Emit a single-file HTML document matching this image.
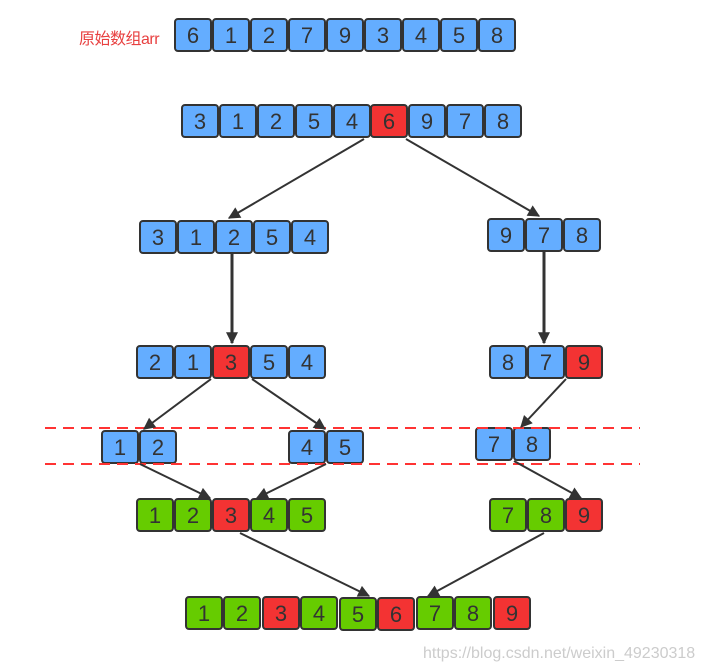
<!DOCTYPE html>
<html><head><meta charset="utf-8"><style>
html,body{margin:0;padding:0;background:#fff;}
svg{display:block}
.b{fill:#64adff}.r{fill:#f33333}.g{fill:#66cc00}
rect{stroke:#333;stroke-width:2}
text.n{font-family:"Liberation Sans","DejaVu Sans",sans-serif;font-size:22px;fill:#333;text-anchor:middle}
</style></head><body>
<svg width="705" height="671" viewBox="0 0 705 671" xmlns="http://www.w3.org/2000/svg">
<defs><marker id="a" viewBox="0 0 10 10" refX="9" refY="5" markerWidth="13" markerHeight="12" markerUnits="userSpaceOnUse" orient="auto"><path d="M0,0L10,5L0,10z" fill="#333"/></marker></defs>
<text x="79" y="44" font-family="Liberation Sans,Noto Sans CJK SC,sans-serif" font-size="16" fill="#e84040" letter-spacing="-0.5">原始数组arr</text>
<g>
<rect class="b" x="175" y="19" width="36" height="32" rx="3"/><text class="n" x="193" y="43">6</text>
<rect class="b" x="213" y="19" width="36" height="32" rx="3"/><text class="n" x="231" y="43">1</text>
<rect class="b" x="251" y="19" width="36" height="32" rx="3"/><text class="n" x="269" y="43">2</text>
<rect class="b" x="289" y="19" width="36" height="32" rx="3"/><text class="n" x="307" y="43">7</text>
<rect class="b" x="327" y="19" width="36" height="32" rx="3"/><text class="n" x="345" y="43">9</text>
<rect class="b" x="365" y="19" width="36" height="32" rx="3"/><text class="n" x="383" y="43">3</text>
<rect class="b" x="403" y="19" width="36" height="32" rx="3"/><text class="n" x="421" y="43">4</text>
<rect class="b" x="441" y="19" width="36" height="32" rx="3"/><text class="n" x="459" y="43">5</text>
<rect class="b" x="479" y="19" width="36" height="32" rx="3"/><text class="n" x="497" y="43">8</text>
</g>
<g>
<rect class="b" x="182" y="105" width="36" height="32" rx="3"/><text class="n" x="200" y="129">3</text>
<rect class="b" x="220" y="105" width="36" height="32" rx="3"/><text class="n" x="238" y="129">1</text>
<rect class="b" x="258" y="105" width="36" height="32" rx="3"/><text class="n" x="276" y="129">2</text>
<rect class="b" x="296" y="105" width="36" height="32" rx="3"/><text class="n" x="314" y="129">5</text>
<rect class="b" x="334" y="105" width="36" height="32" rx="3"/><text class="n" x="352" y="129">4</text>
<rect class="r" x="371" y="105" width="36" height="32" rx="3"/><text class="n" x="389" y="129">6</text>
<rect class="b" x="409" y="105" width="36" height="32" rx="3"/><text class="n" x="427" y="129">9</text>
<rect class="b" x="447" y="105" width="36" height="32" rx="3"/><text class="n" x="465" y="129">7</text>
<rect class="b" x="485" y="105" width="36" height="32" rx="3"/><text class="n" x="503" y="129">8</text>
</g>
<g>
<rect class="b" x="140" y="221" width="36" height="32" rx="3"/><text class="n" x="158" y="245">3</text>
<rect class="b" x="178" y="221" width="36" height="32" rx="3"/><text class="n" x="196" y="245">1</text>
<rect class="b" x="216" y="221" width="36" height="32" rx="3"/><text class="n" x="234" y="245">2</text>
<rect class="b" x="254" y="221" width="36" height="32" rx="3"/><text class="n" x="272" y="245">5</text>
<rect class="b" x="292" y="221" width="36" height="32" rx="3"/><text class="n" x="310" y="245">4</text>
<rect class="b" x="488" y="219" width="36" height="32" rx="3"/><text class="n" x="506" y="243">9</text>
<rect class="b" x="526" y="219" width="36" height="32" rx="3"/><text class="n" x="544" y="243">7</text>
<rect class="b" x="564" y="219" width="36" height="32" rx="3"/><text class="n" x="582" y="243">8</text>
</g>
<g>
<rect class="b" x="137" y="346" width="36" height="32" rx="3"/><text class="n" x="155" y="370">2</text>
<rect class="b" x="175" y="346" width="36" height="32" rx="3"/><text class="n" x="193" y="370">1</text>
<rect class="r" x="213" y="346" width="36" height="32" rx="3"/><text class="n" x="231" y="370">3</text>
<rect class="b" x="251" y="346" width="36" height="32" rx="3"/><text class="n" x="269" y="370">5</text>
<rect class="b" x="289" y="346" width="36" height="32" rx="3"/><text class="n" x="307" y="370">4</text>
<rect class="b" x="490" y="346" width="36" height="32" rx="3"/><text class="n" x="508" y="370">8</text>
<rect class="b" x="528" y="346" width="36" height="32" rx="3"/><text class="n" x="546" y="370">7</text>
<rect class="r" x="566" y="346" width="36" height="32" rx="3"/><text class="n" x="584" y="370">9</text>
</g>
<g>
<rect class="b" x="102" y="431" width="36" height="32" rx="3"/><text class="n" x="120" y="455">1</text>
<rect class="b" x="140" y="431" width="36" height="32" rx="3"/><text class="n" x="158" y="455">2</text>
<rect class="b" x="289" y="431" width="36" height="32" rx="3"/><text class="n" x="307" y="455">4</text>
<rect class="b" x="327" y="431" width="36" height="32" rx="3"/><text class="n" x="345" y="455">5</text>
<rect class="b" x="476" y="428" width="36" height="32" rx="3"/><text class="n" x="494" y="452">7</text>
<rect class="b" x="514" y="428" width="36" height="32" rx="3"/><text class="n" x="532" y="452">8</text>
</g>
<line x1="45" y1="428" x2="640" y2="428" stroke="#f33" stroke-width="2" stroke-dasharray="11,7"/>
<line x1="45" y1="464" x2="640" y2="464" stroke="#f33" stroke-width="2" stroke-dasharray="11,7"/>
<g>
<rect class="g" x="137" y="499" width="36" height="32" rx="3"/><text class="n" x="155" y="523">1</text>
<rect class="g" x="175" y="499" width="36" height="32" rx="3"/><text class="n" x="193" y="523">2</text>
<rect class="r" x="213" y="499" width="36" height="32" rx="3"/><text class="n" x="231" y="523">3</text>
<rect class="g" x="251" y="499" width="36" height="32" rx="3"/><text class="n" x="269" y="523">4</text>
<rect class="g" x="289" y="499" width="36" height="32" rx="3"/><text class="n" x="307" y="523">5</text>
<rect class="g" x="490" y="499" width="36" height="32" rx="3"/><text class="n" x="508" y="523">7</text>
<rect class="g" x="528" y="499" width="36" height="32" rx="3"/><text class="n" x="546" y="523">8</text>
<rect class="r" x="566" y="499" width="36" height="32" rx="3"/><text class="n" x="584" y="523">9</text>
</g>
<g>
<rect class="g" x="186" y="597" width="36" height="32" rx="3"/><text class="n" x="204" y="621">1</text>
<rect class="g" x="224" y="597" width="36" height="32" rx="3"/><text class="n" x="242" y="621">2</text>
<rect class="r" x="263" y="597" width="36" height="32" rx="3"/><text class="n" x="281" y="621">3</text>
<rect class="g" x="301" y="597" width="36" height="32" rx="3"/><text class="n" x="319" y="621">4</text>
<rect class="g" x="340" y="598" width="36" height="32" rx="3"/><text class="n" x="358" y="622">5</text>
<rect class="r" x="378" y="598" width="36" height="32" rx="3"/><text class="n" x="396" y="622">6</text>
<rect class="g" x="417" y="597" width="36" height="32" rx="3"/><text class="n" x="435" y="621">7</text>
<rect class="g" x="455" y="597" width="36" height="32" rx="3"/><text class="n" x="473" y="621">8</text>
<rect class="r" x="494" y="597" width="36" height="32" rx="3"/><text class="n" x="512" y="621">9</text>
</g>
<g stroke="#333" stroke-width="2" fill="none" marker-end="url(#a)">
<line x1="364" y1="139" x2="229" y2="218"/>
<line x1="406" y1="139" x2="539" y2="216"/>
<line x1="232" y1="254" x2="232" y2="343" stroke-width="3"/>
<line x1="544" y1="252" x2="544" y2="343" stroke-width="3"/>
<line x1="211" y1="379" x2="144" y2="429"/>
<line x1="252" y1="379" x2="325" y2="429"/>
<line x1="566" y1="379" x2="521" y2="427"/>
<line x1="140" y1="464" x2="210" y2="498"/>
<line x1="326" y1="464" x2="257" y2="498"/>
<line x1="514" y1="461" x2="581" y2="498"/>
<line x1="240" y1="533" x2="369" y2="596"/>
<line x1="544" y1="533" x2="428" y2="596"/>
</g>
<text x="423" y="658" font-family="Liberation Sans,sans-serif" font-size="16" fill="#cccccc">https://blog.csdn.net/weixin_49230318</text>
</svg>
</body></html>
